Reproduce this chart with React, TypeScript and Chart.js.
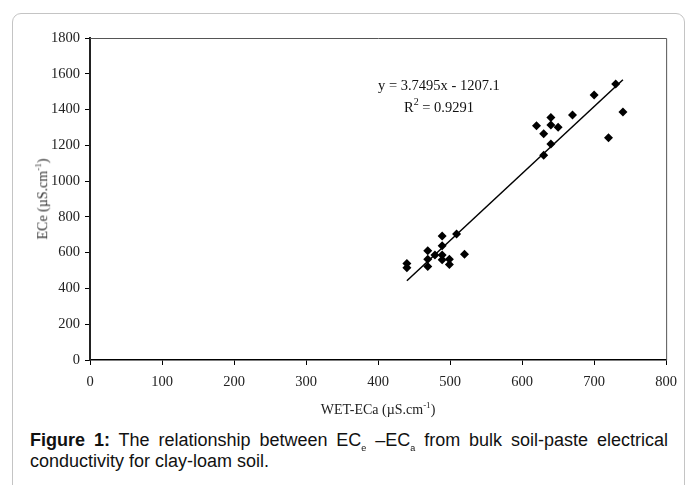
import React, { useEffect, useRef } from "react";
import { Chart, registerables } from "chart.js";

Chart.register(...registerables);

// Measured points: WET-ECa (x) vs ECe (y)
const ecaValues = [440, 440, 469, 469, 469, 479, 489, 489, 489, 489, 499, 499, 509, 520, 620, 630, 630, 640, 640, 640, 650, 670, 700, 720, 730, 740];
const eceValues = [540, 515, 611, 563, 522, 587, 693, 639, 587, 560, 563, 534, 704, 591, 1310, 1265, 1144, 1355, 1314, 1207, 1301, 1369, 1481, 1243, 1543, 1386];

// Linear trend line end points (as drawn)
const trendX = [440, 740];
const trendY = [443, 1567];

const xTicks = [0, 100, 200, 300, 400, 500, 600, 700, 800];
const yTicks = [0, 200, 400, 600, 800, 1000, 1200, 1400, 1600, 1800];

const equationText = "y = 3.7495x - 1207.1";
const r2Text = " = 0.9291";

const serif = "'Liberation Serif', 'Times New Roman', serif";

const boxPlugin = {
  id: "plotBox",
  afterDraw(chart: any) {
    const { ctx, chartArea } = chart;
    ctx.save();
    ctx.strokeStyle = "#555";
    ctx.lineWidth = 1;
    ctx.beginPath();
    ctx.moveTo(chartArea.left, chartArea.top + 0.5);
    ctx.lineTo(chartArea.right + 0.5, chartArea.top + 0.5);
    ctx.lineTo(chartArea.right + 0.5, chartArea.bottom);
    ctx.stroke();
    const xs = chart.scales.x;
    const ys = chart.scales.y;
    ctx.fillStyle = "#111";
    ctx.textBaseline = "middle";
    const main = "14.5px " + serif;
    const small = "10px " + serif;
    ctx.font = main;
    ctx.textAlign = "left";
    const wEq = ctx.measureText(equationText).width;
    const left = xs.getPixelForValue(400);
    const cx = left + wEq / 2;
    ctx.fillText(equationText, left, ys.getPixelForValue(1532));
    ctx.font = main;
    const wR = ctx.measureText("R").width;
    ctx.font = small;
    const wS = ctx.measureText("2").width;
    ctx.font = main;
    const wRest = ctx.measureText(r2Text).width;
    const total = wR + wS + wRest;
    let sx = cx - total / 2;
    const ry = ys.getPixelForValue(1410);
    ctx.fillText("R", sx, ry);
    sx += wR;
    ctx.font = small;
    ctx.fillText("2", sx, ry - 5);
    sx += wS;
    ctx.font = main;
    ctx.fillText(r2Text, sx, ry);
    ctx.restore();
  },
};

function ChartCanvas() {
  const ref = useRef<HTMLCanvasElement | null>(null);
  useEffect(() => {
    if (!ref.current) return;
    const points = ecaValues.map((x, i) => ({ x, y: eceValues[i] }));
    const trend = trendX.map((x, i) => ({ x, y: trendY[i] }));
    const chart = new Chart(ref.current, {
      type: "scatter",
      data: {
        datasets: [
          {
            data: points,
            pointStyle: "rectRot",
            pointRadius: 4.5,
            pointBackgroundColor: "#000",
            pointBorderColor: "#000",
            pointBorderWidth: 0,
          },
          {
            data: trend,
            showLine: true,
            borderColor: "#000",
            borderWidth: 1.5,
            pointRadius: 0,
          },
        ],
      },
      options: {
        responsive: false,
        animation: false,
        events: [],
        layout: { padding: { left: 30, top: 38, right: 15, bottom: 40 } },
        plugins: { legend: { display: false }, tooltip: { enabled: false } },
        scales: {
          x: {
            type: "linear",
            min: 0,
            max: 800,
            afterBuildTicks: (s: any) => {
              s.ticks = xTicks.map((v) => ({ value: v }));
            },
            afterFit: (s: any) => {
              s.height = 30;
            },
            grid: {
              drawOnChartArea: false,
              drawTicks: true,
              tickLength: 5,
              color: "#000",
              lineWidth: 1,
            },
            border: { display: true, color: "#000", width: 1.5 },
            ticks: {
              color: "#222",
              font: { family: serif, size: 14.5 },
              padding: 8,
              maxRotation: 0,
              autoSkip: false,
              callback: (v: any) => String(v),
            },
          },
          y: {
            type: "linear",
            min: 0,
            max: 1800,
            afterBuildTicks: (s: any) => {
              s.ticks = yTicks.map((v) => ({ value: v }));
            },
            afterFit: (s: any) => {
              s.width = 60;
            },
            grid: {
              drawOnChartArea: false,
              drawTicks: true,
              tickLength: 5,
              color: "#000",
              lineWidth: 1,
            },
            border: { display: true, color: "#222", width: 2 },
            ticks: {
              color: "#222",
              font: { family: serif, size: 14.5 },
              padding: 5,
              autoSkip: false,
              callback: (v: any) => String(v),
            },
          },
        },
      },
      plugins: [boxPlugin],
    });
    return () => chart.destroy();
  }, []);
  return (
    <canvas
      ref={ref}
      width={685}
      height={430}
      style={{ position: "absolute", left: 0, top: 0, width: 685, height: 430 }}
    />
  );
}

const subStyle: React.CSSProperties = {
  fontSize: 9,
  position: "relative",
  top: 5,
  lineHeight: 0,
};

export default function App() {
  return (
    <div
      style={{
        position: "fixed",
        left: 0,
        top: 0,
        width: 685,
        height: 485,
        overflow: "hidden",
        background: "#fff",
      }}
    >
      <div
        style={{
          position: "absolute",
          left: 12,
          top: 13,
          width: 673,
          height: 520,
          border: "1.5px solid #c4c4c4",
          borderRadius: 9,
          boxSizing: "border-box",
        }}
      />
      <ChartCanvas />
      <div
        style={{
          position: "absolute",
          left: 42,
          top: 199,
          transform: "translate(-50%, -50%) rotate(-90deg)",
          whiteSpace: "nowrap",
          fontFamily: serif,
          fontSize: 14,
          fontWeight: "normal",
          color: "#333",
        }}
      >
        ECe (µS.cm<sup style={{ fontSize: 9 }}>-1</sup>)
      </div>
      <div
        style={{
          position: "absolute",
          left: 378,
          top: 409,
          transform: "translate(-50%, -50%)",
          whiteSpace: "nowrap",
          fontFamily: serif,
          fontSize: 14,
          color: "#222",
        }}
      >
        WET-ECa (µS.cm<sup style={{ fontSize: 9 }}>-1</sup>)
      </div>
      <div
        style={{
          position: "absolute",
          left: 30,
          top: 430,
          width: 638,
          fontFamily: "'Liberation Sans', Arial, sans-serif",
          fontSize: 18,
          lineHeight: "21px",
          color: "#111",
        }}
      >
        <div style={{ whiteSpace: "nowrap", textAlign: "justify", textAlignLast: "justify" }}>
          <b>Figure 1:</b> The relationship between EC<span style={subStyle}>e</span> –EC
          <span style={subStyle}>a</span> from bulk soil-paste electrical
        </div>
        <div>conductivity for clay-loam soil.</div>
      </div>
    </div>
  );
}
